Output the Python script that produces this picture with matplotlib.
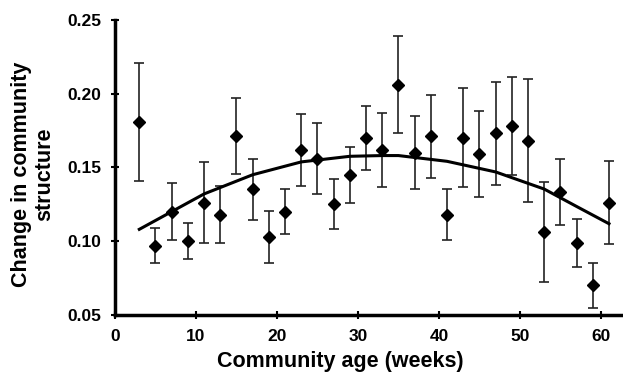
import matplotlib
matplotlib.use("Agg")
import matplotlib.pyplot as plt

plt.rcParams['font.family'] = ['Liberation Sans', 'DejaVu Sans']
plt.rcParams['font.weight'] = 'bold'

weeks = [3, 5, 7, 9, 11, 13, 15, 17, 19, 21, 23, 25, 27, 29, 31,
         33, 35, 37, 39, 41, 43, 45, 47, 49, 51, 53, 55, 57, 59, 61]
change = [0.181, 0.097, 0.120, 0.100, 0.126, 0.118, 0.171, 0.135, 0.103, 0.120,
          0.162, 0.156, 0.125, 0.145, 0.170, 0.162, 0.206, 0.160, 0.171, 0.118,
          0.170, 0.159, 0.173, 0.178, 0.168, 0.106, 0.133, 0.099, 0.070, 0.126]
errors = [0.040, 0.012, 0.0195, 0.0124, 0.0275, 0.0196, 0.0257, 0.0205, 0.0175, 0.015,
          0.0244, 0.024, 0.017, 0.019, 0.0216, 0.025, 0.033, 0.0245, 0.028, 0.017,
          0.0335, 0.029, 0.0347, 0.033, 0.0417, 0.0338, 0.0224, 0.0163, 0.0153, 0.0281]

trend_x = [3, 5, 11, 17, 23, 29, 33, 35, 41, 47, 53, 57, 61]
trend_y = [0.108, 0.114, 0.132, 0.145, 0.1537, 0.1575, 0.158, 0.158, 0.1541, 0.1469, 0.1353, 0.1235, 0.1118]

xticks = [0, 10, 20, 30, 40, 50, 60]
yticks = [0.05, 0.10, 0.15, 0.20, 0.25]

fig = plt.figure(figsize=(6.23, 3.74), dpi=100)
ax = fig.add_axes([0.1846, 0.158, 0.815, 0.789])

ax.errorbar(weeks, change, yerr=errors, fmt='none', ecolor='#222222',
            elinewidth=1.2, capsize=3.5, capthick=1.2, zorder=2)
ax.plot(trend_x, trend_y, color='black', lw=2.2, zorder=3)
ax.plot(weeks, change, linestyle='none', marker='D', markersize=6.3,
        color='black', zorder=4)

ax.set_xlim(0, 62.7)
ax.set_ylim(0.05, 0.25)
ax.set_xticks(xticks)
ax.set_yticks(yticks)
ax.set_xticklabels([str(t) for t in xticks])
ax.set_yticklabels([f"{t:.2f}" for t in yticks])

for s in ['top', 'right']:
    ax.spines[s].set_visible(False)
for s in ['left', 'bottom']:
    ax.spines[s].set_linewidth(2.5)

ax.tick_params(axis='y', direction='inout', length=6, width=1.5,
               labelsize=12.5, pad=7)
ax.tick_params(axis='x', direction='inout', length=6, width=1.5,
               labelsize=12.5, pad=7)
for lab in ax.get_xticklabels() + ax.get_yticklabels():
    lab.set_fontweight('bold')

ax.set_xlabel('Community age (weeks)', fontsize=15.5, fontweight='bold')
ax.xaxis.set_label_coords(0.444, -0.123)
ax.set_ylabel('Change in community\nstructure', fontsize=15.5, fontweight='bold',
              linespacing=1.15)
ax.yaxis.set_label_coords(-0.118, 0.475)

fig.savefig('out.png', dpi=100)
